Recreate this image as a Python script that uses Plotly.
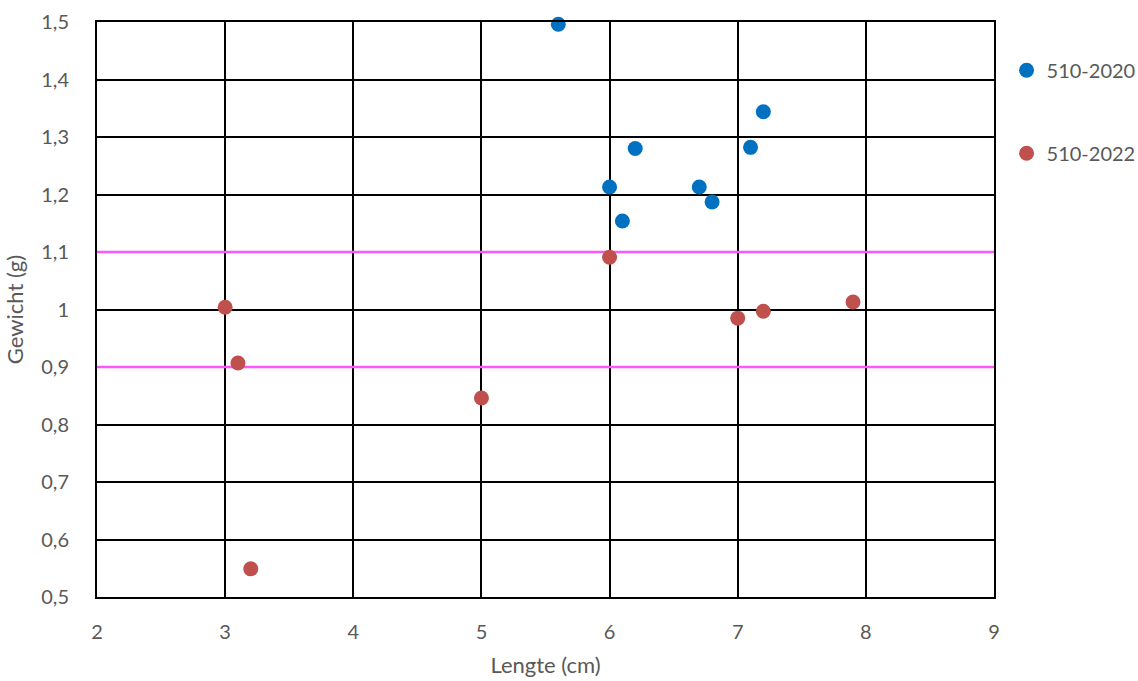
import plotly.graph_objects as go

x_2020 = [5.6, 6.0, 6.1, 6.2, 6.7, 6.8, 7.1, 7.2]
y_2020 = [1.496, 1.213, 1.154, 1.280, 1.213, 1.187, 1.282, 1.344]

x_2022 = [3.0, 3.1, 3.2, 5.0, 6.0, 7.0, 7.2, 7.9]
y_2022 = [1.004, 0.907, 0.549, 0.846, 1.091, 0.985, 0.997, 1.013]

x_range = [2, 9]
y_range = [0.5, 1.5]
ref_lines = [0.9, 1.1]

FONT = "Lato"
GRAY = "#595959"

fig = go.Figure()
for v in ref_lines:
    fig.add_trace(go.Scatter(x=x_range, y=[v, v], mode="lines", showlegend=False,
                             hoverinfo="skip", cliponaxis=False,
                             line=dict(color="#FF55FF", width=2.5)))
fig.add_trace(go.Scatter(x=x_2020, y=y_2020, mode="markers", name="510-2020",
                         legendgroup="a", cliponaxis=False,
                         marker=dict(color="#0070C0", size=15)))
fig.add_trace(go.Scatter(x=x_2022, y=y_2022, mode="markers", name="510-2022",
                         legendgroup="b", cliponaxis=False,
                         marker=dict(color="#C0504D", size=15)))

fig.update_layout(
    width=1138, height=681,
    margin=dict(l=97, r=144, t=22, b=84, autoexpand=False),
    paper_bgcolor="white", plot_bgcolor="white",
    separators=", ",
    font=dict(family=FONT, size=20, color=GRAY),
    showlegend=True,
    legend=dict(x=1.014, y=0.95, xanchor="left", yanchor="top",
                tracegroupgap=54, font=dict(size=20, color=GRAY),
                itemwidth=30),
)
fig.update_xaxes(range=x_range, dtick=1, tick0=2,
                 showgrid=True, gridcolor="black", gridwidth=2,
                 showline=True, linecolor="black", linewidth=2, mirror=True,
                 zeroline=False, ticks="", ticklabelstandoff=16,
                 title=dict(text="Lengte (cm)", standoff=16, font=dict(size=22)))
fig.update_yaxes(range=y_range, dtick=0.1, tick0=0.5,
                 showgrid=True, gridcolor="black", gridwidth=2,
                 showline=True, linecolor="black", linewidth=2, mirror=True,
                 zeroline=False, ticks="", ticklabelstandoff=22,
                 title=dict(text="Gewicht (g)", standoff=12, font=dict(size=22)))

fig.write_html("out.html")
